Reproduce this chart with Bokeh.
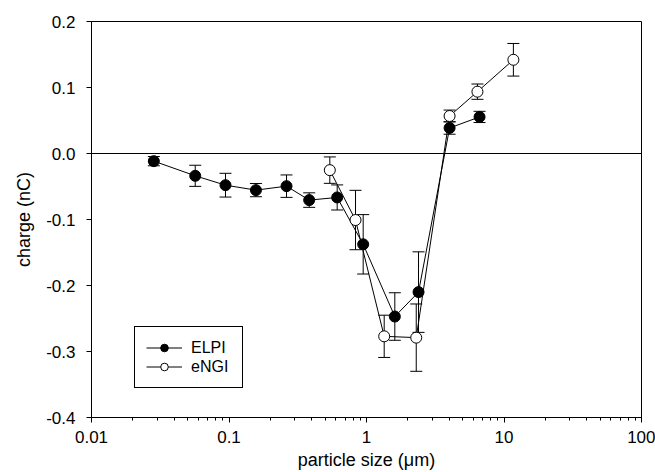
from bokeh.plotting import figure
from bokeh.models import (ColumnDataSource, Whisker, TeeHead, Span, Legend, LegendItem,
                          LogTicker, SingleIntervalTicker, NumeralTickFormatter,
                          CustomJSTickFormatter, Range1d)
from bokeh.embed import file_html
from bokeh.resources import INLINE

# ELPI (filled)
elpi_x = [0.0284, 0.0568, 0.0943, 0.157, 0.262, 0.383, 0.612, 0.946, 1.607, 2.39, 4.02, 6.64]
elpi_y = [-0.0116, -0.0338, -0.048, -0.0555, -0.0495, -0.0706, -0.0666, -0.1376, -0.247, -0.210, 0.0387, 0.0554]
elpi_err = [0.007, 0.016, 0.018, 0.010, 0.017, 0.011, 0.019, 0.045, 0.036, 0.061, 0.0095, 0.0085]

# eNGI (open)
engi_x = [0.541, 0.832, 1.345, 2.30, 4.02, 6.41, 11.7]
engi_y = [-0.0252, -0.1008, -0.277, -0.279, 0.0568, 0.0937, 0.142]
engi_err = [0.020, 0.045, 0.032, 0.051, 0.009, 0.0116, 0.0247]

FONT = "Liberation Sans"
TICK_FS = "17px"
LABEL_FS = "18px"
LEG_FS = "16px"

p = figure(width=655, height=472, x_axis_type="log", output_backend="svg",
           toolbar_location=None, x_range=Range1d(0.01, 100), y_range=Range1d(-0.4, 0.2),
           min_border_left=91, min_border_right=14, min_border_top=21, min_border_bottom=54)
p.xgrid.visible = False
p.ygrid.visible = False
p.outline_line_color = "black"
p.outline_line_width = 1
p.outline_line_alpha = 1

# axes
xa = p.xaxis[0]
xa.ticker = LogTicker(mantissas=[1], num_minor_ticks=10)
xa.formatter = CustomJSTickFormatter(code="""
const e = Math.round(Math.log10(tick));
return e >= 0 ? String(Math.pow(10, e)) : Math.pow(10, e).toFixed(-e);
""")
xa.axis_label = "particle size (\u03bcm)"
ya = p.yaxis[0]
ya.ticker = SingleIntervalTicker(interval=0.1, num_minor_ticks=0)
ya.formatter = NumeralTickFormatter(format="0.0")
ya.axis_label = "charge (nC)"
for ax in (xa, ya):
    ax.axis_line_color = "black"
    ax.major_tick_line_color = "black"
    ax.minor_tick_line_color = "black"
    ax.major_tick_in = 0
    ax.major_tick_out = 5
    ax.minor_tick_in = 0
    ax.minor_tick_out = 3
    ax.major_label_text_font = FONT
    ax.major_label_text_font_size = TICK_FS
    ax.major_label_text_color = "black"
    ax.axis_label_text_font = FONT
    ax.axis_label_text_font_size = LABEL_FS
    ax.axis_label_text_font_style = "normal"
    ax.axis_label_text_color = "black"
xa.major_label_standoff = 8
xa.axis_label_standoff = 4
ya.major_label_standoff = 11
ya.axis_label_standoff = 9
ya.minor_tick_line_color = None

p.add_layout(Span(location=0, dimension="width", line_color="black", line_width=1))

src_e = ColumnDataSource(dict(x=elpi_x, y=elpi_y,
                              lo=[y - e for y, e in zip(elpi_y, elpi_err)],
                              hi=[y + e for y, e in zip(elpi_y, elpi_err)]))
src_n = ColumnDataSource(dict(x=engi_x, y=engi_y,
                              lo=[y - e for y, e in zip(engi_y, engi_err)],
                              hi=[y + e for y, e in zip(engi_y, engi_err)]))

for src in (src_e, src_n):
    w = Whisker(base="x", lower="lo", upper="hi", source=src, dimension="height",
                line_color="black", line_width=1,
                upper_head=TeeHead(size=12, line_color="black", line_width=1),
                lower_head=TeeHead(size=12, line_color="black", line_width=1))
    p.add_layout(w)

le = p.line("x", "y", source=src_e, line_color="black", line_width=1)
ce = p.scatter("x", "y", source=src_e, size=11, fill_color="black", line_color="black")
ln = p.line("x", "y", source=src_n, line_color="black", line_width=1)
cn = p.scatter("x", "y", source=src_n, size=11, fill_color="white", line_color="black")

legend = Legend(items=[LegendItem(label="ELPI", renderers=[le, ce]),
                       LegendItem(label="eNGI", renderers=[ln, cn])],
                location=(43, 29), glyph_width=36, glyph_height=19,
                label_text_font=FONT, label_text_font_size=LEG_FS, label_width=40,
                label_text_color="black",
                border_line_color="black", border_line_width=1, border_line_alpha=1,
                padding=11, spacing=0, margin=0, label_standoff=9,
                background_fill_alpha=1)
p.add_layout(legend)

open("out.html", "w").write(file_html(p, INLINE))
